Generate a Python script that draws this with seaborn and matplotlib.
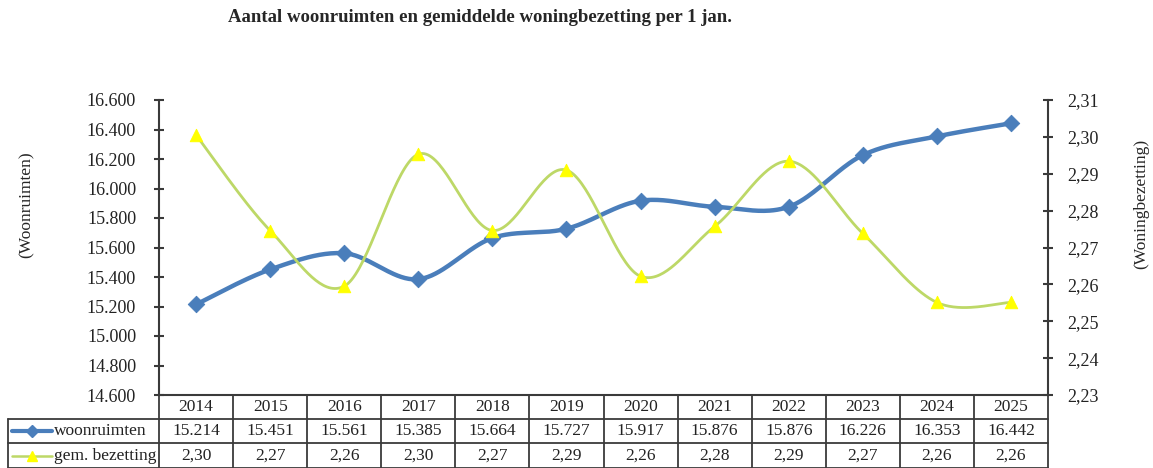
import numpy as np
import pandas as pd
import matplotlib
matplotlib.use("Agg")
import matplotlib.pyplot as plt
import matplotlib.transforms as mtransforms
from matplotlib.ticker import FuncFormatter, MultipleLocator
from matplotlib.lines import Line2D
import seaborn as sns

## Datos ##
jaren = [2014, 2015, 2016, 2017, 2018, 2019, 2020, 2021, 2022, 2023, 2024, 2025]
woonruimten = [15214, 15451, 15561, 15385, 15664, 15727, 15917, 15876, 15876, 16226, 16353, 16442]
# gemiddelde bezetting (tabel toont afgerond)
bezetting = [2.3005, 2.2746, 2.2595, 2.2953, 2.2746, 2.2910, 2.2622, 2.2757, 2.2934, 2.2738, 2.2551, 2.2551]

titel = "Aantal woonruimten en gemiddelde woningbezetting per 1 jan."
label_links = "(Woonruimten)"
label_rechts = "(Woningbezetting)"
rij_labels = ["woonruimten", "gem. bezetting"]

BLAUW = "#4A7EBB"
GROEN = "#BDD867"
GEEL = "#FFFF00"
GRIJS = "#3A3A3A"


def smooth(x, y, n=40):
  # Excel-achtige gladde lijn (Catmull-Rom / Bezier)
  pts = np.column_stack([x, y]).astype(float)
  pad = np.vstack([pts[0], pts, pts[-1]])
  t = np.linspace(0, 1, n)[:, None]
  out = []
  for i in range(len(pts) - 1):
    p0, p1, p2, p3 = pad[i], pad[i + 1], pad[i + 2], pad[i + 3]
    c1 = p1 + (p2 - p0) / 6
    c2 = p2 - (p3 - p1) / 6
    seg = (1 - t) ** 3 * p1 + 3 * (1 - t) ** 2 * t * c1 + 3 * (1 - t) * t ** 2 * c2 + t ** 3 * p2
    out.append(seg if i == 0 else seg[1:])
  out = np.vstack(out)
  return out[:, 0], out[:, 1]


sns.set_theme(style="white")
plt.rcParams['font.family'] = ['Liberation Serif', 'DejaVu Serif']

fig = plt.figure(figsize=(11.53, 4.68), dpi=100)
ax = fig.add_axes([159 / 1153, 1 - 395 / 468, 889 / 1153, 295 / 468])
ax2 = ax.twinx()

pos = np.arange(len(jaren))
df = pd.DataFrame({"pos": pos, "woonruimten": woonruimten, "bezetting": bezetting})

# lijnen
sx, sy = smooth(pos, woonruimten)
sns.lineplot(x=sx, y=sy, ax=ax, color=BLAUW, lw=3.2, sort=False, estimator=None, zorder=3)
sns.scatterplot(data=df, x="pos", y="woonruimten", ax=ax, color=BLAUW, marker="D", s=70,
                edgecolor=BLAUW, zorder=4)

bx, by = smooth(pos, bezetting)
sns.lineplot(x=bx, y=by, ax=ax2, color=GROEN, lw=2, sort=False, estimator=None, zorder=3)
sns.scatterplot(data=df, x="pos", y="bezetting", ax=ax2, color=GEEL, marker="^", s=80,
                edgecolor=GEEL, zorder=4)

# assen
ax.set_xlim(-0.5, len(jaren) - 0.5)
ax.set_ylim(14600, 16600)
ax2.set_ylim(2.23, 2.31)
ax.yaxis.set_major_locator(MultipleLocator(200))
ax2.yaxis.set_major_locator(MultipleLocator(0.01))
ax.yaxis.set_major_formatter(FuncFormatter(lambda v, p: f"{v:,.0f}".replace(",", ".")))
ax2.yaxis.set_major_formatter(FuncFormatter(lambda v, p: f"{v:.2f}".replace(".", ",")))
ax.set_xticks([])
ax2.set_xticks([])
ax.set_xlabel("")
ax.set_ylabel("")
ax2.set_ylabel("")

for a in (ax, ax2):
  for s in a.spines.values():
    s.set_visible(False)
ax.spines["left"].set_visible(True)
ax.spines["bottom"].set_visible(True)
ax2.spines["right"].set_visible(True)
for s in (ax.spines["left"], ax.spines["bottom"], ax2.spines["right"]):
  s.set_color(GRIJS)
  s.set_linewidth(1.5)

ax.tick_params(axis="y", direction="inout", length=7, width=1.5, color=GRIJS,
               labelsize=13, labelcolor="#222222", pad=13, left=True)
ax2.tick_params(axis="y", direction="inout", length=7, width=1.5, color=GRIJS,
                labelsize=13, labelcolor="#222222", pad=10, right=True)

# titel en aslabels
fig.text(480 / 1153, 1 - 18 / 468, titel, ha="center", va="center", fontsize=13.5, fontweight="bold")
fig.text(27 / 1153, 1 - 205 / 468, label_links, rotation=90, ha="center", va="center", fontsize=12.5)
fig.text(1141 / 1153, 1 - 204 / 468, label_rechts, rotation=90, ha="center", va="center", fontsize=12.5)

# tabel onder de grafiek
trans = mtransforms.blended_transform_factory(ax.transData, ax.transAxes)
h = 295.0
rij_y = [0, -24 / h, -48 / h, -73 / h]
links = -0.5 - 151 / 889 * len(jaren)
rechts = len(jaren) - 0.5
lkw = dict(color=GRIJS, lw=1.3, transform=trans, clip_on=False, zorder=5)

ax.plot([-0.5, rechts], [rij_y[0]] * 2, **lkw)
for yy in rij_y[1:]:
  ax.plot([links, rechts], [yy, yy], **lkw)
ax.plot([links, links], [rij_y[1], rij_y[3]], **lkw)
for k in range(len(jaren) + 1):
  ax.plot([k - 0.5, k - 0.5], [rij_y[0], rij_y[3]], **lkw)

tabel_rijen = [
  [str(j) for j in jaren],
  [f"{v:,}".replace(",", ".") for v in woonruimten],
  [f"{v:.2f}".replace(".", ",") for v in bezetting],
]
for r, rij in enumerate(tabel_rijen):
  yc = (rij_y[r] + rij_y[r + 1]) / 2
  for k, txt in enumerate(rij):
    ax.text(k, yc, txt, transform=trans, ha="center", va="center", fontsize=12.5,
            color="#222222", clip_on=False)

# legenda in de rijlabels
lx0 = links + 4 / 889 * len(jaren)
lx1 = links + 44 / 889 * len(jaren)
lm = (lx0 + lx1) / 2
stijlen = [(BLAUW, 3, "D", BLAUW, 6), (GROEN, 1.8, "^", GEEL, 7)]
for r, (naam, (kl, lw, mk, mkl, ms)) in enumerate(zip(rij_labels, stijlen)):
  yc = (rij_y[r + 1] + rij_y[r + 2]) / 2
  ax.add_line(Line2D([lx0, lx1], [yc, yc], color=kl, lw=lw, transform=trans, clip_on=False))
  ax.add_line(Line2D([lm], [yc], marker=mk, color=mkl, markersize=ms, markeredgecolor=mkl,
                     transform=trans, clip_on=False))
  ax.text(lx1 + 0.03, yc, naam, transform=trans, ha="left", va="center", fontsize=12.5,
          color="#222222", clip_on=False)

fig.savefig("out.png", dpi=100)
